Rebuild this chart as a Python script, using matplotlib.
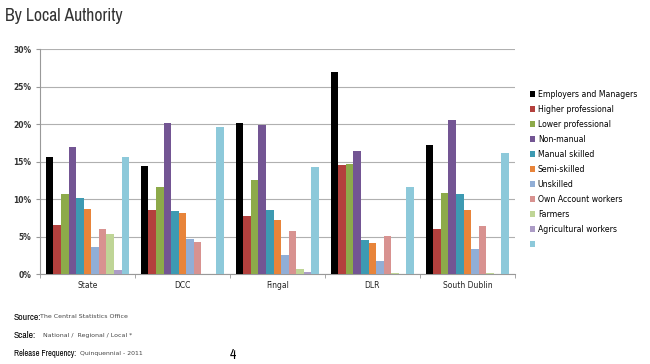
import numpy as np
import matplotlib.pyplot as plt
from matplotlib.patches import Patch
from matplotlib import font_manager

# Data
areas = ["State", "DCC", "Fingal", "DLR", "South Dublin"]
series = ["Employers and Managers", "Higher professional", "Lower professional",
          "Non-manual", "Manual skilled", "Semi-skilled", "Unskilled",
          "Own Account workers", "Farmers", "Agricultural workers", ""]

employers = [15.6, 14.4, 20.2, 27.0, 17.2]
higher_prof = [6.5, 8.5, 7.7, 14.6, 6.0]
lower_prof = [10.7, 11.6, 12.5, 14.7, 10.8]
non_manual = [17.0, 20.1, 19.9, 16.4, 20.5]
manual_skilled = [10.2, 8.4, 8.5, 4.5, 10.7]
semi_skilled = [8.7, 8.1, 7.2, 4.1, 8.5]
unskilled = [3.6, 4.7, 2.6, 1.8, 3.3]
own_account = [6.0, 4.3, 5.8, 5.1, 6.4]
farmers = [5.3, 0.0, 0.7, 0.1, 0.1]
agri_workers = [0.5, 0.0, 0.3, 0.0, 0.0]
other = [15.6, 19.6, 14.3, 11.6, 16.2]

values = [employers, higher_prof, lower_prof, non_manual, manual_skilled,
          semi_skilled, unskilled, own_account, farmers, agri_workers, other]
colors = ["#000000", "#B3403D", "#8DAA4A", "#735593", "#3D9AB2", "#E8843A",
          "#91AED6", "#D89290", "#BFD596", "#AC9CC6", "#8DC9DA"]

# pick a narrow font if one is there
fonts = font_manager.fontManager.ttflist
narrow = dict(family="DejaVu Sans", stretch="normal")
for f in fonts:
    if "Narrow" in f.name:
        narrow = dict(family=f.name, stretch="normal")
        break
else:
    for f in fonts:
        if f.name == "DejaVu Sans" and f.stretch in ("condensed", 300, "semi-condensed"):
            narrow = dict(family="DejaVu Sans", stretch="condensed")
            break

fig = plt.figure(figsize=(6.5, 3.64), dpi=100)
ax = fig.add_axes([0.0615, 0.247, 0.7305, 0.618])

x = np.arange(len(areas))
w = 0.0797
for i, (vals, c) in enumerate(zip(values, colors)):
    ax.bar(x + (i - 5) * w, vals, width=w, color=c, label=series[i], zorder=3)

ax.set_xlim(-0.5, 4.5)
ax.set_ylim(0, 30)
ax.set_yticks(range(0, 31, 5))
ax.set_yticklabels([f"{v}%" for v in range(0, 31, 5)], fontsize=5.5, fontweight="bold", color="#333333")
ax.set_xticks(x)
ax.set_xticklabels(areas, fontsize=5.5, color="#222222")
ax.set_xticks(np.arange(-0.5, 5, 1), minor=True)
ax.tick_params(axis="x", which="major", length=0, pad=5)
ax.tick_params(axis="x", which="minor", length=3, color="#999999")
ax.tick_params(axis="y", length=3, color="#999999", pad=3)
ax.grid(axis="y", color="#b0b0b0", linewidth=0.8, zorder=0)
for s in ["top", "right"]:
    ax.spines[s].set_visible(False)
for s in ["left", "bottom"]:
    ax.spines[s].set_color("#999999")

handles = [Patch(facecolor=c) for c in colors]
fig.legend(handles, series, loc="upper left", bbox_to_anchor=(0.81, 0.762),
           frameon=False, fontsize=5.6, handlelength=0.75, handleheight=0.75,
           handletextpad=0.3, labelspacing=0.77, borderaxespad=0)

renderer = fig.canvas.get_renderer()


def fit_text(xpx, ypx, s, width_px, max_size, **kw):
    # put text with left edge at xpx and fit it to width_px (pixels from top-left)
    t = fig.text(xpx / 650, 1 - ypx / 364, s, fontsize=max_size, va="center", **kw)
    bb = t.get_window_extent(renderer)
    if bb.width > width_px:
        t.set_fontsize(max_size * width_px / bb.width)
    return t


fit_text(5, 16, "By Local Authority", 118, 16, color="#333333", **narrow)

fit_text(14, 317, "Source:", 36, 7, fontweight="bold", **narrow)
fit_text(40, 317, "The Central Statistics Office", 88, 5, color="#444444")
fit_text(14, 336, "Scale:", 28, 7, fontweight="bold", **narrow)
fit_text(43, 336, "National /  Regional / Local *", 90, 5, color="#444444")
fit_text(14, 354, "Release Frequency:", 62, 7, fontweight="bold", **narrow)
fit_text(80, 354, "Quinquennial - 2011", 64, 5, color="#444444")
fit_text(230, 355, "4", 7, 10, fontweight="bold", **narrow)

fig.savefig("out.png", dpi=100)
